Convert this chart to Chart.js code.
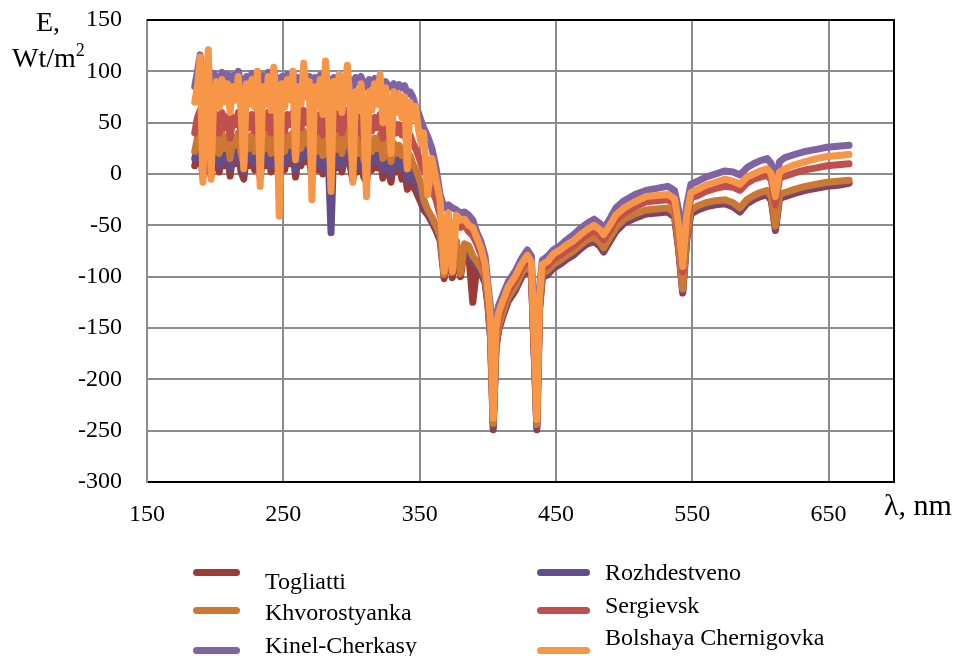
<!DOCTYPE html>
<html>
<head>
<meta charset="utf-8">
<script src="https://cdn.jsdelivr.net/npm/chart.js@4.4.1/dist/chart.umd.min.js"></script>
<style>
  body { margin: 0; background: #fff; }
  #wrap { position: relative; width: 957px; height: 656px; font-family: 'Liberation Serif', 'Times New Roman', serif; color: #000; }
  canvas { position: absolute; left: 0; top: 0; }
  .lbl { position: absolute; white-space: nowrap; line-height: 1; }
  .leg { position: absolute; white-space: nowrap; font-size: 24px; line-height: 24px; }
  .sw { position: absolute; height: 7px; border-radius: 3.5px; }
</style>
</head>
<body>
<div id="wrap">
  <canvas id="grafica" width="957" height="656"></canvas>
  <div class="lbl" style="left:36px;top:8px;font-size:28px;">E,</div>
  <div class="lbl" style="left:12px;top:41px;font-size:28px;">Wt/m<sup style="font-size:18px;vertical-align:11px;">2</sup></div>
  <div class="lbl" style="left:884px;top:490px;font-size:30px;">λ, nm</div>
  <div id="legend"></div>
</div>
<script>
// wavelength, nm
const wavelength = [185,187,189,191,193,195,197,199,201,203,205,207,209,211,213,215,217,219,221,223,
  225,227,229,231,233,235,237,239,241,243,245,247,249,251,253,255,257,259,261,263,
  265,267,269,271,273,275,277,279,281,283,285,287,289,291,293,295,297,299,301,303,
  305,307,309,311,313,315,317,319,321,323,325,327,329,331,333,335,337,339,341,343,
  345,347,349,351,
  353,356,359,362,365,368,371,374,377,380,383,386,389,392,395,398,400,402,404,406,
  408,411,415,420,425,429,432,434,436,438,440,444,448,453,458,463,468,473,478,482,
  485,489,494,500,508,516,524,532,537,540,543,546,549,554,560,567,574,580,585,590,
  595,600,605,608,611,614,618,625,633,641,649,657,665];

const togliatti = [8,20,24,-3,18,22,-2,16,20,2,22,8,20,-2,20,10,22,2,-5,20,
  8,22,4,22,-4,18,8,22,2,24,10,-5,18,4,20,10,22,-3,18,8,
  24,12,18,-5,18,4,20,0,24,8,-4,18,6,22,2,16,24,8,-6,14,
  2,18,-3,-8,12,4,16,6,18,-4,14,4,-8,12,2,8,-5,5,-15,-5,
  -12,-16,-22,-28,
  -35,-40,-47,-55,-65,-102,-66,-101,-70,-100,-72,-78,-125,-90,-97,-106,-127,-160,-249,-170,
  -152,-139,-124,-114,-100,-92,-100,-174,-249,-132,-101,-98,-92,-88,-83,-79,-73,-68,-66,-70,
  -76,-67,-56,-48,-43,-39,-38,-37,-42,-74,-116,-64,-39,-35,-32,-30,-29,-32,-37,-29,
  -25,-22,-20,-26,-55,-24,-22,-19,-16,-14,-12,-11,-9];

const rozhdestveno = [15,25,30,3,24,28,5,22,26,8,28,14,25,5,26,16,28,8,2,25,
  14,27,10,28,3,24,14,28,8,30,15,2,24,10,26,16,28,4,24,14,
  30,18,25,2,24,10,26,6,30,14,-57,25,12,28,8,22,30,14,0,20,
  8,24,4,-2,18,10,22,12,25,4,20,10,0,18,8,15,4,12,-6,5,
  -2,-8,-14,-20,
  -30,-38,-45,-52,-62,-96,-64,-90,-67,-92,-70,-72,-84,-88,-95,-104,-125,-158,-245,-168,
  -150,-137,-122,-112,-98,-90,-98,-172,-246,-130,-99,-96,-90,-86,-81,-77,-71,-66,-64,-68,
  -74,-65,-54,-46,-41,-37,-36,-35,-40,-72,-114,-62,-37,-33,-30,-28,-27,-30,-35,-27,
  -23,-20,-18,-24,-53,-22,-20,-17,-14,-12,-10,-9,-8];

const khvorostyanka = [22,35,42,12,34,40,14,32,38,20,40,25,36,15,36,28,40,20,10,36,
  25,38,22,40,12,35,25,40,20,42,26,12,35,22,38,28,40,15,34,25,
  42,30,36,10,35,22,38,18,42,26,12,36,24,40,20,34,42,26,10,32,
  20,36,14,8,30,22,35,25,38,15,32,22,12,30,20,28,18,25,5,18,
  10,5,-2,-10,
  -25,-35,-42,-50,-60,-98,-62,-96,-65,-97,-68,-70,-80,-85,-92,-100,-122,-155,-243,-165,
  -148,-135,-120,-110,-96,-88,-96,-170,-244,-128,-97,-94,-88,-84,-79,-75,-69,-64,-62,-66,
  -72,-63,-52,-44,-39,-35,-34,-33,-38,-70,-112,-60,-35,-31,-28,-26,-25,-28,-33,-25,
  -21,-18,-16,-22,-51,-20,-18,-15,-12,-10,-8,-7,-6];

const sergievsk = [40,55,62,30,52,60,32,50,58,40,60,45,56,35,55,48,60,40,28,56,
  45,58,42,60,30,55,45,60,40,62,46,32,55,42,58,48,60,35,54,45,
  62,50,56,30,55,42,58,38,62,46,32,56,44,60,40,54,62,46,30,52,
  40,56,34,28,50,42,55,45,58,35,52,42,32,50,40,48,38,45,25,38,
  30,25,18,10,
  5,-5,-15,-25,-40,-55,-45,-50,-48,-52,-50,-56,-60,-68,-78,-92,-115,-145,-225,-155,
  -140,-128,-114,-104,-91,-83,-90,-165,-235,-122,-92,-89,-83,-79,-74,-70,-64,-59,-55,-59,
  -64,-56,-45,-38,-32,-27,-26,-25,-29,-55,-95,-46,-23,-21,-17,-14,-12,-13,-16,-9,
  -5,-3,-1,-6,-30,-4,-2,1,4,6,8,9,10];

const kinelCherkasy = [85,100,116,82,96,105,88,98,94,88,99,90,97,86,96,92,100,88,84,95,
  90,98,88,99,84,96,90,99,88,100,92,86,95,90,97,92,99,85,94,90,
  97,92,95,84,94,88,96,88,97,92,84,94,90,95,88,92,96,90,84,94,
  90,95,88,84,92,88,93,90,92,86,90,86,84,88,84,87,84,86,78,80,
  75,66,60,52,
  45,36,25,6,-20,-33,-30,-33,-35,-38,-37,-40,-45,-57,-66,-80,-106,-130,-200,-140,
  -128,-118,-105,-95,-82,-74,-80,-150,-200,-110,-84,-80,-74,-70,-64,-59,-53,-48,-44,-48,
  -53,-45,-33,-26,-20,-16,-14,-12,-16,-35,-63,-30,-10,-7,-3,0,3,2,-1,6,
  10,13,15,10,-7,12,16,19,22,24,26,27,28];

const bolshaya = [70,85,114,-8,80,121,-5,75,90,65,92,70,88,60,85,72,95,62,5,88,
  68,92,65,100,-12,85,68,95,62,104,70,-41,88,65,92,72,100,14,85,68,
  108,75,90,-25,85,65,92,58,110,68,-17,90,65,97,60,85,106,68,-8,80,
  62,88,55,-22,80,62,88,68,97,50,84,62,20,80,60,78,55,75,5,70,
  55,66,45,30,
  40,-20,15,-5,-25,-95,-38,-95,-40,-45,-44,-50,-52,-62,-72,-88,-112,-140,-238,-150,
  -135,-124,-110,-100,-87,-79,-86,-160,-239,-118,-88,-85,-78,-74,-69,-65,-59,-54,-50,-54,
  -59,-51,-40,-33,-27,-22,-21,-20,-24,-50,-90,-40,-18,-15,-11,-8,-5,-7,-10,-3,
  0,3,5,0,-22,2,5,9,12,15,17,18,19];

const xTicks = [150, 250, 350, 450, 550, 650];

function serie(label, valores, color, orden) {
  return {
    label: label,
    data: wavelength.map((x, i) => ({ x: x, y: valores[i] })),
    borderColor: color,
    backgroundColor: color,
    order: orden
  };
}

const datasets = [
  serie('Togliatti', togliatti, '#9b3b38', 5),
  serie('Rozhdestveno', rozhdestveno, '#634d8a', 4),
  serie('Khvorostyanka', khvorostyanka, '#cc7832', 3),
  serie('Sergievsk', sergievsk, '#c0504d', 2),
  serie('Kinel-Cherkasy', kinelCherkasy, '#8064a2', 1),
  serie('Bolshaya Chernigovka', bolshaya, '#f79646', 0)
];

// black frame on top and right like the original
const marco = {
  id: 'marco',
  afterDraw(chart) {
    const a = chart.chartArea, c = chart.ctx;
    c.save();
    c.strokeStyle = '#000';
    c.lineWidth = 2;
    c.beginPath();
    c.moveTo(a.left, a.top);
    c.lineTo(a.right, a.top);
    c.lineTo(a.right, a.bottom);
    c.stroke();
    c.restore();
  }
};

const fuente = { family: "'Liberation Serif', 'Times New Roman', serif", size: 24 };

const w = new Chart(document.getElementById('grafica'), {
  type: 'line',
  data: { datasets: datasets },
  options: {
    responsive: false,
    animation: false,
    layout: { padding: { top: 20, right: 63, left: 0, bottom: 0 } },
    elements: {
      point: { radius: 0 },
      line: { borderWidth: 7, borderCapStyle: 'round', borderJoinStyle: 'round', tension: 0 }
    },
    plugins: { legend: { display: false }, tooltip: { enabled: false } },
    scales: {
      x: {
        type: 'linear',
        min: 150,
        max: 698,
        afterBuildTicks: s => { s.ticks = xTicks.map(v => ({ value: v })); },
        afterFit: s => { s.height = 174; },
        grid: { color: '#8c8c8c', lineWidth: 2, drawTicks: false },
        border: { color: '#000', width: 2 },
        ticks: { font: fuente, color: '#000', padding: 18, maxRotation: 0 }
      },
      y: {
        min: -300,
        max: 150,
        // fixed width, and no extra top/bottom room for the labels
        afterFit: s => { s.width = 147; s.paddingTop = 0; s.paddingBottom = 0; },
        grid: { color: '#8c8c8c', lineWidth: 2, drawTicks: false },
        border: { color: '#8c8c8c', width: 2 },
        ticks: { stepSize: 50, font: fuente, color: '#000', padding: 25 }
      }
    }
  },
  plugins: [marco]
});

// legend in two columns, built from the datasets
const legPos = {
  'Togliatti': [193, 47, 572, 265, 581],
  'Khvorostyanka': [193, 47, 610, 265, 612],
  'Kinel-Cherkasy': [193, 47, 650, 265, 645],
  'Rozhdestveno': [537, 53, 572, 605, 572],
  'Sergievsk': [537, 53, 610, 605, 605],
  'Bolshaya Chernigovka': [537, 53, 650, 605, 637]
};
const leg = document.getElementById('legend');
datasets.forEach(d => {
  const p = legPos[d.label];
  const sw = document.createElement('div');
  sw.className = 'sw';
  sw.style.left = p[0] + 'px';
  sw.style.width = p[1] + 'px';
  sw.style.top = (p[2] - 3) + 'px';
  sw.style.background = d.borderColor;
  leg.appendChild(sw);
  const t = document.createElement('div');
  t.className = 'leg';
  t.style.left = p[3] + 'px';
  t.style.top = (p[4] - 12) + 'px';
  t.textContent = d.label;
  leg.appendChild(t);
});
</script>
</body>
</html>
